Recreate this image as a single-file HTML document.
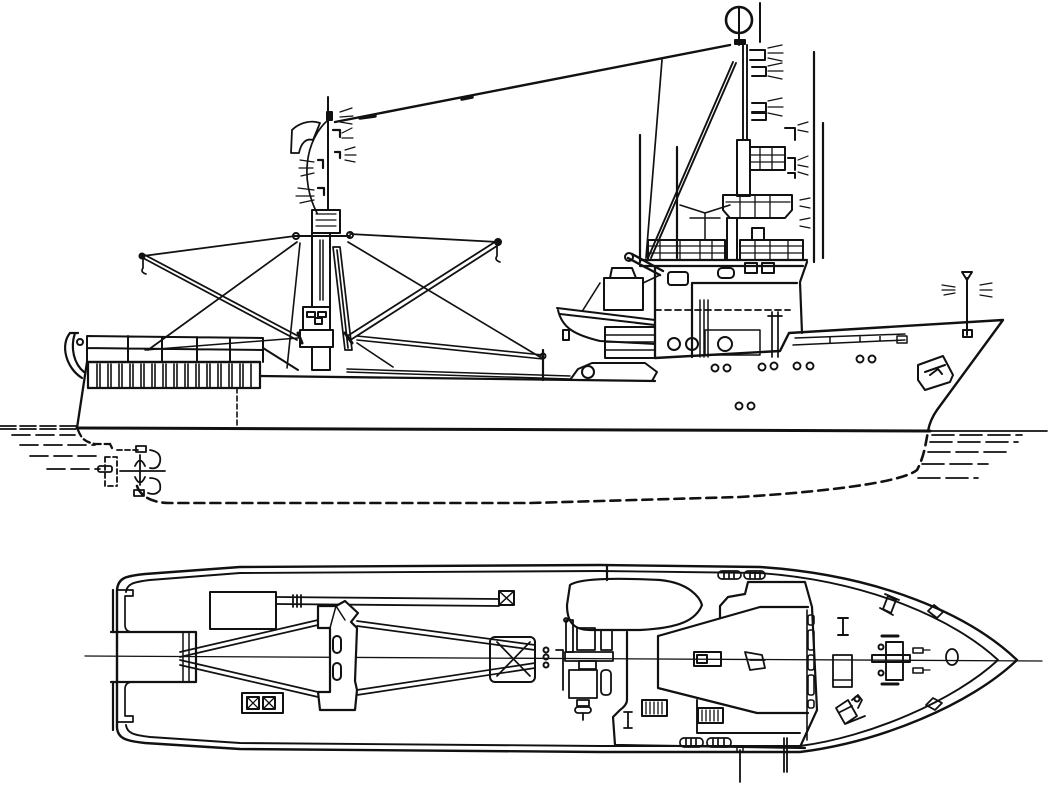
<!DOCTYPE html>
<html><head><meta charset="utf-8"><style>
html,body{margin:0;padding:0;background:#fff;}
svg{display:block;}
</style></head><body>
<svg width="1055" height="785" viewBox="0 0 1055 785" xmlns="http://www.w3.org/2000/svg">
<rect width="1055" height="785" fill="#fff"/>
<g fill="none" stroke="#111" stroke-width="2" stroke-linejoin="round" stroke-linecap="round">

<!-- ============ SIDE VIEW ============ -->
<g stroke-width="1.7">
<line x1="0" y1="426" x2="77" y2="426" stroke-dasharray="16 4"/>
<line x1="0" y1="429" x2="77" y2="429" stroke-dasharray="16 4"/>
<line x1="12" y1="435" x2="75" y2="435" stroke-dasharray="18 6"/>
<line x1="20" y1="445" x2="95" y2="445" stroke-dasharray="18 6"/>
<line x1="30" y1="456" x2="100" y2="456" stroke-dasharray="18 6"/>
<line x1="47" y1="469" x2="100" y2="469" stroke-dasharray="18 6"/>
<line x1="928" y1="431" x2="1047" y2="431"/>
<line x1="932" y1="435" x2="1022" y2="435" stroke-dasharray="22 6"/>
<line x1="930" y1="442" x2="1018" y2="442" stroke-dasharray="22 6"/>
<line x1="928" y1="452" x2="1008" y2="452" stroke-dasharray="22 6"/>
<line x1="922" y1="464" x2="988" y2="464" stroke-dasharray="22 6"/>
<line x1="918" y1="478" x2="978" y2="478" stroke-dasharray="22 6"/>
</g>

<line x1="77" y1="428" x2="930" y2="431" stroke-width="3"/>
<path d="M77,428 L87,362 L260,362" stroke-width="2.3"/>
<rect x="88" y="362" width="172" height="26" stroke-width="2.2"/>
<g stroke-width="1.6">
<path d="M97,364V388 M100,364V388 M108,364V388 M111,364V388 M119,364V388 M122,364V388 M130,364V388 M133,364V388 M141,364V388 M144,364V388 M152,364V388 M155,364V388 M163,364V388 M166,364V388 M174,364V388 M177,364V388 M185,364V388 M188,364V388 M196,364V388 M199,364V388 M207,364V388 M210,364V388 M218,364V388 M221,364V388 M229,364V388 M232,364V388 M240,364V388 M243,364V388 M251,364V388"/>
</g>
<path d="M87,336 L263,338 L263,362 M87,348 L263,350 M87,336 V362 M128,336 V362 M162,337 V362 M197,337 V362 M230,338 V362 M263,348 L298,370"/>
<path d="M145,350 L298,338" stroke-width="1.5"/>
<path d="M70,333 C60,345 66,368 82,378 M75,333 C70,348 74,364 84,372 M70,333 L78,333" stroke-width="2.2"/>
<circle cx="80" cy="342" r="3"/>
<path d="M260,376 L655,381" stroke-width="2.3"/>
<path d="M347,369 L570,376 M347,372 L570,379" stroke-width="1.5"/>
<line x1="237" y1="388" x2="237" y2="426" stroke-dasharray="5 3" stroke-width="1.6"/>
<path d="M655,358 L780,351 L789,333 L1003,320 L937,410 Q930,420 928,431" stroke-width="2.4"/>
<path d="M793,345 L905,340 M795,338 L905,334 M830,343 V337 M860,342 V336 M880,341 V335" stroke-width="1.5"/>
<rect x="897" y="336" width="10" height="7" stroke-width="1.5"/>
<path d="M570,380 L578,369 L592,363 L645,363 L657,372 L652,381"/>
<circle cx="588" cy="372" r="6"/>
<g stroke-width="1.9">
<circle cx="715" cy="368" r="3.5"/><circle cx="727" cy="368" r="3.5"/>
<circle cx="762" cy="367" r="3.5"/><circle cx="774" cy="366" r="3.5"/>
<circle cx="797" cy="366" r="3.5"/><circle cx="810" cy="366" r="3.5"/>
<circle cx="860" cy="359" r="3.5"/><circle cx="872" cy="359" r="3.5"/>
<circle cx="739" cy="406" r="3.5"/><circle cx="751" cy="406" r="3.5"/>
</g>
<path d="M918,365 L943,356 L953,375 L950,382 L925,390 L918,380 Z M925,372 L945,365 M930,375 l8,-6 l4,5"/>
<path d="M967,278 V335 M962,272 H972 L967,280 Z M963,330 H972 V337 H963 Z"/>
<path d="M942,285 L955,287 M942,290 L955,290 M944,295 L955,293 M980,285 L992,283 M980,290 L992,290 M980,295 L992,297" stroke-width="1.2"/>

<path d="M78,430 C82,440 86,442 95,444 L110,444 M110,444 L112,448" stroke-dasharray="7 4" stroke-width="2.3"/>
<path d="M137,486 C140,495 150,503 170,503 L530,503 L740,497 C850,490 905,480 917,470 C925,455 926,440 928,432" stroke-dasharray="10 6" stroke-width="2.6"/>
<g stroke-width="1.8">
<path d="M105,457 V486 H117 M117,450 H140 M105,457 H117 V486" stroke-dasharray="5 3"/>
<rect x="98" y="466" width="14" height="6" rx="2"/>
<path d="M140,455 V485 M135,466 Q140,455 145,466 M135,477 Q140,488 145,477 M120,471 H165"/>
<path d="M150,450 Q162,452 160,462 Q158,470 150,468 M150,478 Q162,478 160,490 Q156,496 148,493"/>
<rect x="136" y="446" width="10" height="6"/><rect x="134" y="490" width="10" height="6"/>
</g>

<!-- foremast -->
<path d="M328,97 V210"/>
<rect x="312" y="210" width="28" height="23"/>
<path d="M316,214 H336 M316,220 H336 M316,226 H336" stroke-width="1.2"/>
<rect x="312" y="233" width="18" height="74"/>
<path d="M320,240 V300 M323,240 V300" stroke-width="1.5"/>
<path d="M333,247 L340,247 L352,350 L345,350 Z M337,250 L348,348" stroke-width="1.7"/>
<rect x="303" y="307" width="27" height="23"/>
<rect x="307" y="312" width="8" height="5"/><rect x="318" y="312" width="8" height="5"/>
<rect x="300" y="330" width="33" height="17"/>
<rect x="312" y="347" width="18" height="23"/>
<rect x="315" y="318" width="7" height="6"/>
<path d="M295,236 H350"/>
<circle cx="296" cy="236" r="3"/><circle cx="350" cy="235" r="3"/>
<path d="M295,236 L143,256 M350,234 L498,242" stroke-width="1.8"/>
<path d="M143,254 L298,336 M143,258 L297,340" stroke-width="1.8"/>
<path d="M498,240 L349,335 M500,244 L352,339" stroke-width="1.8"/>
<path d="M297,242 L148,350 M348,242 L540,357" stroke-width="1.7"/>
<path d="M357,336 L543,355 M357,340 L543,359" stroke-width="1.6"/>
<path d="M300,243 L287,368 M357,343 L393,367" stroke-width="1.6"/>
<path d="M143,258 V268 Q140,272 146,274 M497,245 V256 Q494,260 500,262" stroke-width="1.7"/>
<circle cx="142" cy="256" r="2.5" fill="#111"/><circle cx="498" cy="242" r="3" fill="#111"/>
<path d="M543,350 V380" stroke-width="2.2"/><circle cx="543" cy="356" r="2.5"/>
<path d="M298,333 L302,343 M345,333 L352,343" stroke-width="3"/>
<path d="M328,120 C305,140 300,180 317,213" stroke-width="1.7"/>
<path d="M292,130 C300,122 312,120 320,123 L313,140 C306,138 301,143 299,153 L291,153 Z" stroke-width="1.8"/>
<rect x="327" y="112" width="5" height="8" fill="#111"/>
<path d="M333,130 H340 V137 M335,152 H340 V158 M318,160 H323 V168 M318,188 H324 V195" stroke-width="2.2"/>
<path d="M340,112 L352,108 M340,117 L353,116 M340,122 L352,124 M342,133 L352,128 M342,138 L353,138 M345,150 L355,147 M345,155 L356,155 M345,160 L355,162 M300,160 L314,162 M299,168 L313,168 M301,176 L314,173 M298,188 L314,190 M296,196 L314,196 M300,203 L314,200" stroke-width="1.2"/>
<path d="M335,122 L730,45" stroke-width="2.4"/>
<path d="M360,118 L375,116 M462,99 L472,97" stroke-width="3.5"/>

<!-- main mast / superstructure -->
<circle cx="739" cy="20" r="13" stroke-width="2.6"/>
<path d="M739,7 V35 M739,33 V45 M760,3 V42"/>
<rect x="735" y="40" width="10" height="4" fill="#111"/>
<path d="M743,45 V140 M747,45 V140" stroke-width="1.9"/>
<rect x="737" y="140" width="13" height="56"/>
<rect x="750" y="147" width="35" height="23"/>
<path d="M750,155 H785 M750,162 H785 M760,147 V170 M772,147 V170" stroke-width="1.3"/>
<path d="M723,195 H792 V210 L785,218 H730 L723,210 Z"/>
<path d="M726,202 H790 M740,195 V218 M755,195 V218 M770,195 V218" stroke-width="1.3"/>
<rect x="727" y="218" width="10" height="42"/>
<g stroke-width="2">
<path d="M750,50 H765 V60 H750 M752,67 H766 V76 H752 M752,103 H766 V112 H752 M752,113 H766 V120 H752 M785,128 H795 V140 M788,158 H795 V170 M788,173 H795 V178"/>
</g>
<path d="M768,48 L782,45 M768,53 L783,53 M768,58 L782,61 M768,66 L782,63 M768,71 L783,71 M768,76 L782,79 M768,101 L782,98 M768,107 L783,107 M768,113 L782,116 M798,125 L808,122 M798,130 L808,132 M798,160 L808,156 M798,165 L808,167 M798,172 L808,175 M800,200 L810,198 M800,206 L810,208 M800,220 L810,218 M800,226 L810,228" stroke-width="1.2"/>
<path d="M640,135 V262 M677,147 V258 M814,52 V262 M823,123 V258" stroke-width="2.2"/>
<path d="M648,258 L733,62 M651,258 L736,63" stroke-width="1.9"/>
<path d="M662,60 L646,258" stroke-width="1.7"/>
<path d="M680,205 L705,213 L730,205 M705,213 V240 M690,218 L720,218" stroke-width="1.5"/>
<rect x="648" y="240" width="77" height="20"/>
<path d="M648,246 H725 M648,253 H725 M660,240 V260 M680,240 V260 M700,240 V260 M712,240 V260" stroke-width="1.3"/>
<rect x="740" y="240" width="63" height="20"/>
<path d="M740,246 H803 M740,253 H803 M755,240 V260 M770,240 V260 M788,240 V260" stroke-width="1.3"/>
<rect x="752" y="228" width="12" height="12"/>
<path d="M640,260 H807 M640,266 H803" stroke-width="2.2"/>
<path d="M655,266 V357" stroke-width="2.3"/>
<path d="M807,262 L800,282 L802,333 M692,283 H797 M692,283 V357" stroke-width="2.2"/>
<rect x="668" y="272" width="20" height="13" rx="3"/>
<line x1="655" y1="310" x2="790" y2="310" stroke-dasharray="6 4" stroke-width="1.8"/>
<path d="M700,300 V357 M704,300 V357 M708,300 V357" stroke-width="1.5"/>
<path d="M772,312 V357 M778,312 V357 M768,316 H782" stroke-width="1.7"/>
<circle cx="674" cy="344" r="6"/><circle cx="692" cy="344" r="6"/><circle cx="725" cy="344" r="7"/>
<path d="M705,330 H760 V355 H705 Z" stroke-width="1.5"/>
<rect x="745" y="263" width="12" height="10"/><rect x="762" y="263" width="12" height="10"/>
<rect x="718" y="268" width="16" height="10" rx="4"/>
<path d="M557,308 L655,320 M560,314 L655,325"/>
<path d="M558,310 C562,328 575,335 600,341 L655,344"/>
<rect x="604" y="278" width="39" height="32"/>
<path d="M610,278 L612,268 H632 L636,278"/>
<path d="M600,283 L583,310 M643,283 L660,275" stroke-width="1.6"/>
<path d="M628,258 L660,275 M632,254 L663,271" stroke-width="2.4"/>
<circle cx="629" cy="257" r="4"/>
<rect x="563" y="330" width="6" height="10"/>
<rect x="605" y="327" width="50" height="31"/>
<path d="M605,335 H655 M605,342 H655 M605,350 H655" stroke-width="1.4"/>

<!-- ============ PLAN VIEW ============ -->
<line x1="85" y1="656" x2="1042" y2="661" stroke-width="1.3"/>
<path d="M117,590 C118,578 125,576 145,574 L240,567 L600,565 L760,567 C880,575 970,615 1017,660 C970,705 880,742 800,752 L600,752 L240,749 L145,743 C125,741 118,738 117,728 Z" stroke-width="2.4"/>
<path d="M126,592 C127,584 133,582 150,580 L240,573 L600,571 L760,573 C870,581 955,620 998,660 C955,700 870,737 800,746 L600,746 L240,743 L150,737 C133,735 127,733 126,725" stroke-width="1.9"/>
<path d="M111,632 H196 V682 H111" stroke-width="2.2"/>
<path d="M183,632 V682 M189,632 V682" stroke-width="1.5"/>
<path d="M113,590 V632 M113,682 V730" stroke-width="2.2"/>
<path d="M118,590 H133 V596 H125 V625 Q125,632 133,632 M133,682 Q125,682 125,689 V716 H133 V722 H118" stroke-width="1.7"/>
<rect x="210" y="592" width="66" height="37"/>
<path d="M276,597 L499,599 M276,604 L499,606" stroke-width="1.8"/>
<path d="M293,595 V607 M297,595 V607 M301,595 V607" stroke-width="1.8"/>
<rect x="499" y="591" width="15" height="14"/>
<path d="M499,591 L514,605 M514,591 L499,605" stroke-width="1.5"/>
<path d="M180,652 L318,620 M180,657 L318,625" stroke-width="1.7"/>
<path d="M180,660 L318,692 M180,665 L318,697" stroke-width="1.7"/>
<path d="M357,621 L535,645 M357,626 L535,650" stroke-width="1.7"/>
<path d="M357,690 L535,663 M357,695 L535,668" stroke-width="1.7"/>
<path d="M318,606 H336 L345,601 L358,613 L351,622 L357,628 L355,681 L357,690 L355,710 H320 L318,692 H330 V628 H318 Z" stroke-width="2.2" fill="#fff"/>
<path d="M336,606 L330,628 M336,606 L345,620" stroke-width="1.5"/>
<rect x="333" y="636" width="8" height="17" rx="4"/>
<rect x="333" y="663" width="8" height="17" rx="4"/>
<rect x="490" y="637" width="45" height="45" rx="5"/>
<path d="M497,642 L530,676 M530,642 L497,676" stroke-width="1.7"/>
<circle cx="546" cy="650" r="2.5"/><circle cx="546" cy="657" r="2.5"/><circle cx="546" cy="665" r="2.5"/>
<rect x="242" y="693" width="41" height="20"/>
<rect x="247" y="697" width="12" height="12"/><rect x="263" y="697" width="12" height="12"/>
<path d="M247,697 L259,709 M259,697 L247,709 M263,697 L275,709 M275,697 L263,709" stroke-width="1.3"/>

<path d="M607,565 V580" stroke-width="2.2"/>
<path d="M570,585 C580,578 620,578 660,580 C690,583 700,598 702,605 C696,620 680,628 640,630 L590,630 C572,630 567,620 567,605 Z" stroke-width="2.2"/>
<path d="M627,632 V700 Q627,705 620,710 L613,717 L615,745 L805,748" stroke-width="2.2"/>
<path d="M658,636 L760,607 H808 M658,636 V688 L757,713 H808" stroke-width="2.2"/>
<path d="M720,618 V606 L728,597 L745,594 L748,582 H805 L812,607 L817,710 L800,747" stroke-width="2.2"/>
<path d="M697,700 V733 H800" stroke-width="1.9"/>
<path d="M807,610 V740" stroke-width="1.6"/>
<g stroke-width="1.6">
<rect x="808" y="615" width="6" height="10" rx="2"/><rect x="808" y="630" width="6" height="20" rx="2"/>
<rect x="808" y="655" width="6" height="15" rx="2"/><rect x="808" y="675" width="6" height="20" rx="2"/>
<rect x="808" y="700" width="6" height="8" rx="2"/>
</g>
<rect x="694" y="652" width="27" height="14"/><rect x="697" y="655" width="10" height="8"/>
<path d="M745,652 L762,655 L765,668 L750,670 Z M750,660 H765" stroke-width="1.8"/>
<rect x="642" y="700" width="25" height="16"/>
<path d="M646,702 V714 M650,702 V714 M654,702 V714 M658,702 V714 M662,702 V714" stroke-width="1.3"/>
<rect x="698" y="708" width="25" height="15"/>
<path d="M702,710 V721 M706,710 V721 M710,710 V721 M714,710 V721 M718,710 V721" stroke-width="1.3"/>
<g stroke-width="1.7">
<rect x="718" y="571" width="23" height="8" rx="4"/><rect x="744" y="571" width="21" height="8" rx="4"/>
<rect x="680" y="738" width="23" height="9" rx="4"/><rect x="707" y="738" width="24" height="9" rx="4"/>
<path d="M724,572 V578 M729,572 V578 M734,572 V578 M750,572 V578 M755,572 V578 M760,572 V578 M686,739 V746 M691,739 V746 M696,739 V746 M713,739 V746 M718,739 V746 M724,739 V746"/>
</g>
<g stroke-width="1.8">
<rect x="566" y="620" width="7" height="32"/><rect x="577" y="628" width="18" height="22"/>
<rect x="601" y="630" width="11" height="20"/>
<rect x="565" y="652" width="48" height="9"/>
<rect x="579" y="661" width="17" height="8"/>
<rect x="569" y="670" width="28" height="28"/><rect x="601" y="670" width="10" height="25" rx="4"/>
<rect x="577" y="700" width="12" height="6"/><rect x="575" y="707" width="16" height="6" rx="3"/>
<path d="M583,713 V720 M563,650 V690 M556,650 H563"/>
<circle cx="566" cy="620" r="2"/>
</g>
<path d="M628,712 V728 M624,712 H632 M624,728 H632" stroke-width="1.8"/>
<rect x="833" y="655" width="19" height="32" stroke-width="1.8"/>
<path d="M833,680 H852" stroke-width="1.5"/>
<path d="M843,618 V635 M838,618 H848 M838,635 H848" stroke-width="1.9"/>
<rect x="872" y="655" width="38" height="7" stroke-width="1.9"/>
<rect x="886" y="642" width="17" height="38" stroke-width="1.9"/>
<path d="M882,636 H898 M882,684 H898" stroke-width="3"/>
<circle cx="881" cy="647" r="2.5"/><circle cx="881" cy="673" r="2.5"/>
<rect x="913" y="648" width="10" height="5" stroke-width="1.6"/><rect x="913" y="668" width="10" height="5" stroke-width="1.6"/>
<path d="M923,650 H930 M923,670 H930" stroke-width="1.2"/>
<ellipse cx="952" cy="657" rx="6" ry="8" stroke-width="1.8"/>
<path d="M888,596 L896,600 L891,613 L883,609 Z M885,594 L899,600 M880,608 L893,615" stroke-width="1.8"/>
<path d="M928,611 L934,605 L943,612 L937,618 Z" stroke-width="1.8"/>
<path d="M926,705 L933,698 L942,703 L935,710 Z" stroke-width="1.8"/>
<path d="M836,708 L848,700 L857,716 L845,724 Z M840,712 L852,706 M852,700 L858,695 L862,700 L858,708 M845,724 L865,716" stroke-width="1.8"/>
<circle cx="857" cy="699" r="2.5"/>
<path d="M740,750 V782 M784,738 V772 M787,738 V772" stroke-width="1.8"/>
<rect x="737" y="747" width="6" height="5" stroke-width="1.5"/>
</g>
</svg>
</body></html>
